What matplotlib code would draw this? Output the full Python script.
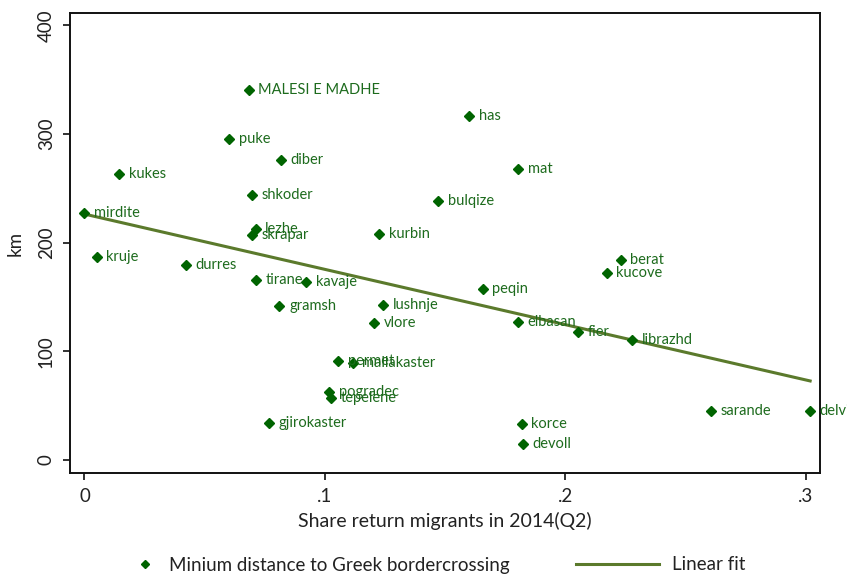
import matplotlib
matplotlib.use("Agg")
import matplotlib.pyplot as plt
from matplotlib.lines import Line2D
import numpy as np

plt.rcParams['font.family'] = ['Lato', 'DejaVu Sans']

# districts, share of return migrants, min distance (km) to Greek border crossing
districts = ["mirdite", "kruje", "kukes", "durres", "puke", "MALESI E MADHE",
             "shkoder", "diber", "lezhe", "skrapar", "kurbin", "tirane",
             "kavaje", "gramsh", "lushnje", "vlore", "peqin", "elbasan",
             "fier", "permet", "mallakaster", "pogradec", "tepelene",
             "gjirokaster", "korce", "devoll", "has", "mat", "bulqize",
             "berat", "kucove", "librazhd", "sarande", "delvine"]
share = [0.0, 0.0051, 0.0144, 0.0421, 0.0603, 0.0683,
         0.0696, 0.0818, 0.0712, 0.0696, 0.1225, 0.0712,
         0.0922, 0.0811, 0.1243, 0.1206, 0.1657, 0.1803,
         0.2052, 0.1056, 0.1116, 0.1019, 0.1024,
         0.0766, 0.1819, 0.1823, 0.1600, 0.1804, 0.1471,
         0.2231, 0.2172, 0.2278, 0.2606, 0.3019]
dist_km = [227.6, 187.1, 263.3, 179.5, 295.5, 340.6,
           244.2, 276.5, 212.6, 207.1, 208.3, 165.7,
           164.2, 142.1, 142.4, 125.8, 157.7, 126.8,
           117.5, 90.9, 89.3, 62.9, 56.8,
           33.8, 32.9, 14.7, 316.7, 268.2, 238.5,
           183.7, 172.2, 110.5, 45.3, 45.3]

x_ticks = [0, 0.1, 0.2, 0.3]
x_ticklabels = ["0", ".1", ".2", ".3"]
y_ticks = [0, 100, 200, 300, 400]

mk_col = "#006400"
lbl_col = "#1d6b1d"
fit_col = "#5b7a2c"
txt_col = "#222222"

x = np.array(share)
y = np.array(dist_km)
b, a = np.polyfit(x, y, 1)
xf = np.array([x.min(), x.max()])
yf = a + b * xf

fig = plt.figure(figsize=(8.47, 5.8), dpi=100)
ax = fig.add_axes([70 / 847, 1 - 473 / 580, 750 / 847, 460 / 580])

ax.plot(x, y, linestyle="none", marker="D", ms=5, color=mk_col, zorder=3)
ax.plot(xf, yf, color=fit_col, lw=2.2, zorder=2)
for name, xi, yi in zip(districts, share, dist_km):
    ax.annotate(name, (xi, yi), xytext=(7, 0), textcoords="offset points",
                va="center", ha="left", fontsize=10.5, color=lbl_col,
                annotation_clip=False, clip_on=False)

ax.set_xlim(-0.00603, 0.3060)
ax.set_ylim(-12.0, 411.5)
ax.set_xticks(x_ticks)
ax.set_xticklabels(x_ticklabels)
ax.set_yticks(y_ticks)
for lab in ax.get_yticklabels():
    lab.set_rotation(90)
    lab.set_va("center")
ax.tick_params(direction="out", length=5, width=1.3, labelsize=13.5,
               colors=txt_col, pad=6)
for sp in ax.spines.values():
    sp.set_linewidth(1.4)
    sp.set_color("#111111")

ax.set_xlabel("Share return migrants in 2014(Q2)", fontsize=14, color=txt_col, labelpad=5)
ax.set_ylabel("km", fontsize=13.5, color=txt_col, labelpad=10)

h1 = Line2D([], [], linestyle="none", marker="D", ms=4, color=mk_col)
h2 = Line2D([], [], color=fit_col, lw=2.2)
leg1 = fig.legend([h1], ["Minium distance to Greek bordercrossing"], loc="center left",
                  bbox_to_anchor=(136 / 847, 1 - 565 / 580), frameon=False,
                  fontsize=13.5, handlelength=1.0, handletextpad=0.75,
                  borderpad=0, borderaxespad=0)
leg2 = fig.legend([h2], ["Linear fit"], loc="center left",
                  bbox_to_anchor=(576 / 847, 1 - 565 / 580), frameon=False,
                  fontsize=13.5, handlelength=4.4, handletextpad=0.7,
                  borderpad=0, borderaxespad=0)
for t in leg1.get_texts() + leg2.get_texts():
    t.set_color(txt_col)

fig.savefig("out.png", dpi=100)
